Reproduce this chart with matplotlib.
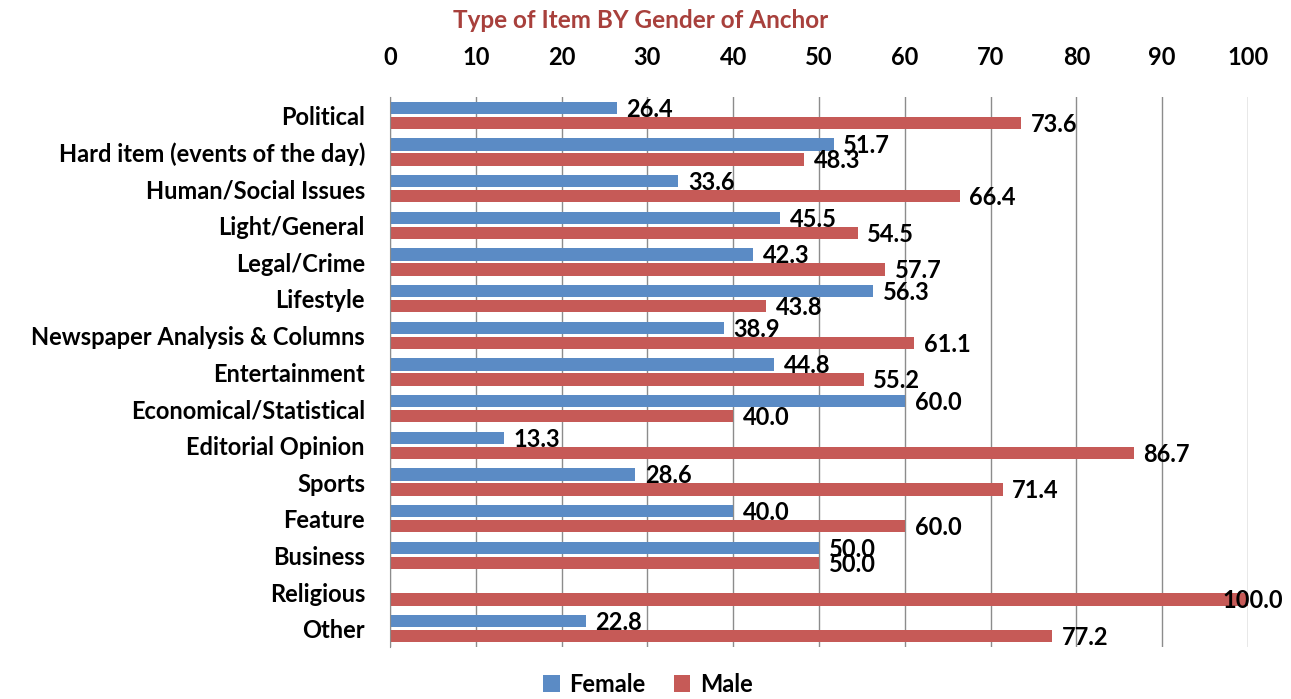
import numpy as np
import matplotlib
matplotlib.use("Agg")
import matplotlib.pyplot as plt
from matplotlib.transforms import blended_transform_factory

# ================================
# DATA
# ================================
categories = [
    "Political", "Hard item (events of the day)", "Human/Social Issues",
    "Light/General", "Legal/Crime", "Lifestyle", "Newspaper Analysis & Columns",
    "Entertainment", "Economical/Statistical", "Editorial Opinion", "Sports",
    "Feature", "Business", "Religious", "Other",
]
female = [26.4, 51.7, 33.6, 45.5, 42.3, 56.3, 38.9, 44.8, 60.0, 13.3, 28.6, 40.0, 50.0, 0.0, 22.8]
male = [73.6, 48.3, 66.4, 54.5, 57.7, 43.8, 61.1, 55.2, 40.0, 86.7, 71.4, 60.0, 50.0, 100.0, 77.2]
xticks = list(range(0, 101, 10))

TITLE = "Type of Item BY Gender of Anchor"
BLUE = "#5B8BC5"
RED = "#C65A57"
TITLE_COLOR = "#A8403C"
FS = 17

plt.rcParams["font.family"] = ["Lato", "DejaVu Sans"]
plt.rcParams["font.weight"] = "bold"

fig = plt.figure(figsize=(12.91, 6.99), dpi=100)
ax = fig.add_axes([390 / 1291, 1 - 647 / 699, 858 / 1291, 550 / 699])

y = np.arange(len(categories))
h = 0.34
off = 0.205

ax.barh(y - off, female, height=h, color=BLUE, label="Female", zorder=3)
ax.barh(y + off, male, height=h, color=RED, label="Male", zorder=3)

# labels at the axis max would run off the figure: pin them to the right edge
edge = blended_transform_factory(fig.transFigure, ax.transData)


def put_label(v, yy):
    txt = f"{v:.1f}"
    if v >= 100:
        ax.annotate(txt, (1283 / 1291, yy), xycoords=edge, xytext=(0, -1),
                    textcoords="offset points", va="center", ha="right",
                    fontsize=FS, fontweight="bold", zorder=4, annotation_clip=False)
    else:
        ax.annotate(txt, (v, yy), xytext=(7, -1), textcoords="offset points",
                    va="center", ha="left", fontsize=FS, fontweight="bold", zorder=4)


for yi, v in zip(y, female):
    if v > 0:
        put_label(v, yi - off)
for yi, v in zip(y, male):
    put_label(v, yi + off)

ax.set_xlim(0, 100)
ax.set_ylim(len(categories) - 0.5, -0.5)
ax.set_xticks(xticks)
ax.set_yticks(y)
ax.set_yticklabels(categories, fontsize=FS, fontweight="bold")
ax.xaxis.tick_top()
ax.tick_params(axis="x", length=0, pad=20, labelsize=FS)
ax.tick_params(axis="y", length=0, pad=18)
for lab in ax.get_xticklabels():
    lab.set_fontweight("bold")

ax.grid(axis="x", color="#8C8C8C", linewidth=1, zorder=0)
for s in ["top", "right", "bottom"]:
    ax.spines[s].set_visible(False)
ax.spines["left"].set_color("#8C8C8C")
ax.spines["left"].set_zorder(5)

fig.text(641 / 1291, 1 - 20 / 699, TITLE, ha="center", va="center",
         fontsize=17.5, fontweight="bold", color=TITLE_COLOR)

fig.legend(loc="center", bbox_to_anchor=(648 / 1291, 1 - 684 / 699), ncol=2,
           frameon=False, fontsize=FS, handlelength=0.7, handleheight=0.7,
           columnspacing=1.2, handletextpad=0.4)

plt.savefig("out.png", dpi=100)
